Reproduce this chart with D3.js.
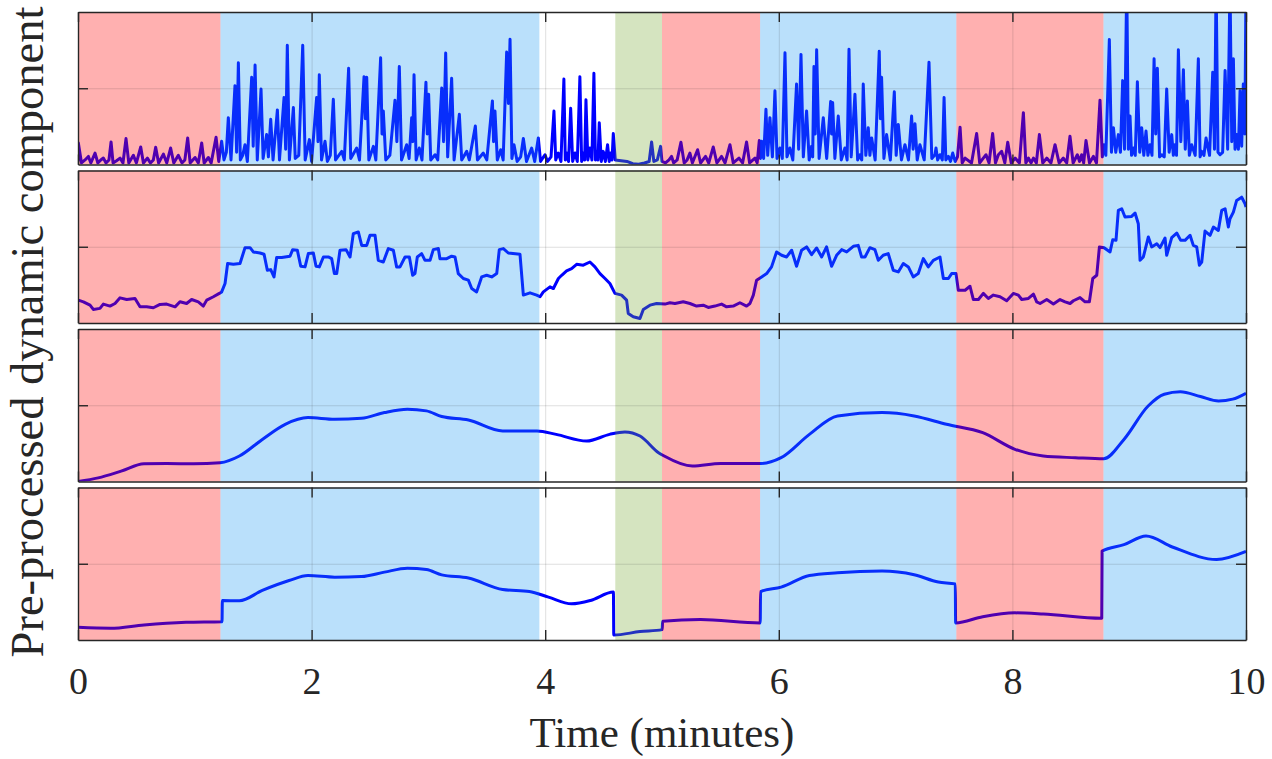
<!DOCTYPE html>
<html lang="en">

<head>
    <meta charset="UTF-8">
    <title>Pre-processed dynamic component</title>
    <script src="https://d3js.org/d3.v7.min.js"></script>
    <style>
        body {
            margin: 0;
            background: #fff;
        }

        svg text {
            font-family: "Liberation Serif", "Times New Roman", serif;
            fill: #262626;
        }

        .frame .domain,
        .frame line {
            stroke: #262626;
            stroke-width: 1.4px;
        }

        .grid line {
            stroke: #262626;
            stroke-opacity: 0.15;
            stroke-width: 1px;
        }

        .grid .domain {
            display: none;
        }

        .signal {
            fill: none;
            stroke: #0000ff;
            stroke-width: 3px;
            stroke-linejoin: round;
        }
    </style>
</head>

<body>
    <div id="chart"></div>

    <script>
        // ---- data ----
        const timeTicks = [0, 2, 4, 6, 8, 10];

        // shaded segments (minutes) and what kind of phase each one is
        const segmentEdges = [0, 1.22, 3.95, 4.6, 5.0, 5.84, 7.52, 8.78, 10];
        const segmentKinds = ["red", "blue", "none", "green", "red", "blue", "red", "blue"];

        // row 1: raw spiky component [minutes, value]
        const row1 = [
            [0, 0.02], [0.003, 0.141], [0.03, 0.01], [0.06, 0.03], [0.089, 0.053], [0.11, 0.01], [0.146, 0.075], [0.17, 0.01],
            [0.195, 0.03], [0.217, 0.042], [0.24, 0.01], [0.265, 0.03], [0.283, 0.148], [0.30, 0.01], [0.33, 0.025], [0.36, 0.042],
            [0.385, 0.01], [0.411, 0.17], [0.435, 0.01], [0.474, 0.06], [0.50, 0.01], [0.537, 0.115], [0.56, 0.01], [0.594, 0.042],
            [0.62, 0.01], [0.645, 0.03], [0.665, 0.113], [0.69, 0.01], [0.731, 0.068], [0.76, 0.01], [0.793, 0.108], [0.82, 0.01],
            [0.859, 0.06], [0.89, 0.01], [0.915, 0.03], [0.939, 0.174], [0.96, 0.01], [1.002, 0.046], [1.03, 0.01], [1.059, 0.141],
            [1.08, 0.01], [1.116, 0.046], [1.14, 0.01], [1.182, 0.179], [1.205, 0.02],
            [1.22, 0.10], [1.23, 0.152], [1.25, 0.03], [1.27, 0.08], [1.287, 0.307], [1.31, 0.03], [1.344, 0.517], [1.358, 0.08],
            [1.373, 0.667], [1.39, 0.03], [1.41, 0.06], [1.43, 0.13], [1.45, 0.02], [1.487, 0.572], [1.50, 0.12], [1.516, 0.653],
            [1.535, 0.03], [1.567, 0.495], [1.585, 0.04], [1.615, 0.197], [1.63, 0.05], [1.65, 0.296], [1.67, 0.03], [1.707, 0.358],
            [1.725, 0.03], [1.764, 0.439], [1.778, 0.1], [1.792, 0.782], [1.81, 0.03], [1.844, 0.373], [1.86, 0.04], [1.89, 0.06],
            [1.924, 0.782], [1.945, 0.03], [1.981, 0.163], [2.00, 0.02], [2.043, 0.439], [2.055, 0.15], [2.066, 0.589], [2.085, 0.03],
            [2.115, 0.152], [2.135, 0.02], [2.16, 0.06], [2.186, 0.428], [2.205, 0.03], [2.258, 0.086], [2.28, 0.03], [2.317, 0.631],
            [2.335, 0.04], [2.386, 0.108], [2.41, 0.03], [2.449, 0.576], [2.46, 0.3], [2.472, 0.572], [2.49, 0.03], [2.529, 0.119],
            [2.55, 0.03], [2.591, 0.70], [2.603, 0.2], [2.614, 0.351], [2.635, 0.03], [2.67, 0.06], [2.714, 0.422], [2.73, 0.15],
            [2.751, 0.642], [2.77, 0.03], [2.814, 0.13], [2.835, 0.04], [2.857, 0.307], [2.866, 0.15], [2.877, 0.589], [2.895, 0.03],
            [2.922, 0.108], [2.945, 0.03], [2.979, 0.539], [2.99, 0.2], [3.002, 0.461], [3.02, 0.03], [3.057, 0.064], [3.08, 0.03],
            [3.114, 0.501], [3.13, 0.15], [3.148, 0.731], [3.165, 0.05], [3.199, 0.565], [3.22, 0.03], [3.265, 0.329], [3.285, 0.03],
            [3.328, 0.086], [3.35, 0.03], [3.402, 0.252], [3.42, 0.03], [3.47, 0.075], [3.50, 0.03], [3.548, 0.417], [3.558, 0.15],
            [3.57, 0.351], [3.59, 0.03], [3.619, 0.097], [3.64, 0.03], [3.67, 0.737], [3.685, 0.4], [3.699, 0.821], [3.715, 0.04],
            [3.733, 0.13], [3.76, 0.02], [3.79, 0.05], [3.813, 0.17], [3.84, 0.02], [3.884, 0.108], [3.91, 0.02], [3.941, 0.174],
            [3.96, 0.02],
            [3.998, 0.064], [4.02, 0.02], [4.05, 0.05], [4.075, 0.351], [4.09, 0.03], [4.112, 0.075], [4.135, 0.02], [4.16, 0.561],
            [4.172, 0.03], [4.183, 0.075], [4.20, 0.02], [4.218, 0.369], [4.235, 0.02], [4.255, 0.075], [4.275, 0.02], [4.297, 0.576],
            [4.312, 0.02], [4.326, 0.075], [4.338, 0.03], [4.349, 0.424], [4.365, 0.03], [4.383, 0.108], [4.40, 0.03], [4.417, 0.598],
            [4.43, 0.03], [4.44, 0.086], [4.452, 0.03], [4.463, 0.274], [4.48, 0.02], [4.497, 0.086], [4.515, 0.02], [4.534, 0.13],
            [4.548, 0.02], [4.56, 0.075], [4.572, 0.03], [4.583, 0.203], [4.60, 0.03],
            [4.65, 0.025], [4.70, 0.02], [4.75, 0.005], [4.80, 0.002], [4.85, 0.01], [4.89, 0.02], [4.911, 0.148], [4.93, 0.02],
            [4.96, 0.03], [4.988, 0.119], [5.0, 0.02],
            [5.03, 0.01], [5.06, 0.03], [5.082, 0.053], [5.10, 0.01], [5.13, 0.03], [5.162, 0.146], [5.19, 0.01], [5.215, 0.03],
            [5.239, 0.075], [5.26, 0.01], [5.305, 0.097], [5.33, 0.01], [5.373, 0.053], [5.40, 0.01], [5.439, 0.115], [5.47, 0.01],
            [5.51, 0.053], [5.54, 0.01], [5.582, 0.13], [5.61, 0.01], [5.659, 0.042], [5.69, 0.01], [5.724, 0.148], [5.75, 0.01],
            [5.796, 0.042], [5.815, 0.01], [5.833, 0.157],
            [5.843, 0.04], [5.853, 0.152], [5.87, 0.04], [5.89, 0.362], [5.905, 0.06], [5.924, 0.307], [5.945, 0.05], [5.967, 0.483],
            [5.985, 0.04], [6.01, 0.108], [6.03, 0.04], [6.053, 0.733], [6.07, 0.05], [6.095, 0.108], [6.12, 0.03], [6.152, 0.528],
            [6.17, 0.1], [6.19, 0.722], [6.21, 0.05], [6.238, 0.351], [6.26, 0.03], [6.281, 0.119], [6.29, 0.05], [6.301, 0.642],
            [6.312, 0.2], [6.324, 0.753], [6.345, 0.04], [6.381, 0.307], [6.41, 0.04], [6.444, 0.413], [6.452, 0.2], [6.461, 0.406],
            [6.48, 0.04], [6.509, 0.318], [6.535, 0.03], [6.566, 0.108], [6.585, 0.03], [6.601, 0.755], [6.62, 0.05], [6.652, 0.461],
            [6.675, 0.03], [6.695, 0.064], [6.71, 0.03], [6.723, 0.528], [6.745, 0.06], [6.766, 0.241], [6.78, 0.06], [6.795, 0.174],
            [6.825, 0.03], [6.86, 0.742], [6.87, 0.3], [6.88, 0.572], [6.90, 0.04], [6.923, 0.196], [6.955, 0.03], [6.989, 0.477],
            [7.005, 0.06], [7.023, 0.263], [7.05, 0.03], [7.08, 0.13], [7.11, 0.03], [7.137, 0.318], [7.15, 0.1], [7.166, 0.267],
            [7.185, 0.03], [7.208, 0.13], [7.245, 0.03], [7.286, 0.671], [7.31, 0.04], [7.337, 0.064], [7.346, 0.108], [7.36, 0.03],
            [7.38, 0.064], [7.40, 0.03], [7.415, 0.439], [7.43, 0.03], [7.452, 0.053], [7.47, 0.02], [7.489, 0.075], [7.51, 0.02],
            [7.53, 0.05],
            [7.552, 0.245], [7.57, 0.01], [7.595, 0.042], [7.65, 0.01], [7.694, 0.203], [7.72, 0.01], [7.751, 0.042], [7.774, 0.064],
            [7.80, 0.01], [7.831, 0.203], [7.855, 0.01], [7.88, 0.064], [7.908, 0.086], [7.935, 0.01], [7.96, 0.146], [7.99, 0.01],
            [8.023, 0.042], [8.06, 0.01], [8.094, 0.34], [8.115, 0.01], [8.137, 0.042], [8.16, 0.01], [8.18, 0.042], [8.205, 0.01],
            [8.231, 0.196], [8.26, 0.01], [8.294, 0.042], [8.33, 0.01], [8.365, 0.13], [8.40, 0.01], [8.436, 0.042], [8.465, 0.01],
            [8.493, 0.185], [8.52, 0.01], [8.556, 0.064], [8.575, 0.02], [8.593, 0.064], [8.61, 0.01], [8.63, 0.157], [8.66, 0.01],
            [8.693, 0.053], [8.72, 0.01], [8.75, 0.422], [8.77, 0.05],
            [8.785, 0.13], [8.80, 0.06], [8.83, 0.819], [8.848, 0.08], [8.865, 0.241], [8.885, 0.08], [8.907, 0.196], [8.925, 0.08],
            [8.944, 0.55], [8.96, 0.1], [8.979, 1.2], [8.993, 0.1], [9.007, 0.318], [9.02, 0.06], [9.036, 0.108], [9.052, 0.06],
            [9.07, 0.543], [9.09, 0.08], [9.107, 0.241], [9.125, 0.06], [9.144, 0.219], [9.16, 0.06], [9.178, 0.13], [9.195, 0.06],
            [9.213, 0.693], [9.227, 0.2], [9.241, 0.631], [9.26, 0.05], [9.278, 0.064], [9.30, 0.05], [9.321, 0.495], [9.342, 0.08],
            [9.364, 0.196], [9.378, 0.06], [9.392, 0.13], [9.405, 0.06], [9.421, 0.753], [9.442, 0.15], [9.464, 0.622], [9.48, 0.1],
            [9.498, 0.417], [9.515, 0.06], [9.535, 0.13], [9.565, 0.06], [9.592, 0.693], [9.607, 0.05], [9.621, 0.086], [9.64, 0.06],
            [9.658, 0.174], [9.688, 0.06], [9.715, 0.605], [9.73, 0.1], [9.744, 1.2], [9.76, 0.08], [9.778, 0.064], [9.80, 0.08],
            [9.821, 0.616], [9.843, 0.1], [9.863, 1.2], [9.878, 0.15], [9.892, 0.693], [9.906, 0.1], [9.92, 0.196], [9.935, 0.1],
            [9.949, 0.483], [9.963, 0.12], [9.977, 0.528], [9.99, 0.2], [10.0, 1.2]
        ];

        // row 2: stepped component
        const row2 = [
            [0.003, 0.15], [0.046, 0.139], [0.103, 0.117], [0.131, 0.089], [0.188, 0.096], [0.217, 0.124], [0.274, 0.111],
            [0.317, 0.128], [0.36, 0.165], [0.417, 0.154], [0.488, 0.161], [0.531, 0.106], [0.588, 0.106], [0.645, 0.10],
            [0.702, 0.122], [0.759, 0.124], [0.831, 0.106], [0.873, 0.139], [0.93, 0.128], [0.973, 0.154], [1.03, 0.139],
            [1.073, 0.111], [1.102, 0.15], [1.159, 0.172], [1.21, 0.194], [1.23, 0.204], [1.259, 0.259], [1.281, 0.39],
            [1.33, 0.385], [1.387, 0.39], [1.43, 0.494], [1.473, 0.494], [1.501, 0.466], [1.558, 0.459], [1.593, 0.451],
            [1.621, 0.346], [1.65, 0.35], [1.678, 0.302], [1.701, 0.429], [1.744, 0.429], [1.815, 0.438], [1.838, 0.481],
            [1.878, 0.477], [1.907, 0.372], [1.944, 0.368], [1.972, 0.455], [2.015, 0.459], [2.038, 0.372], [2.066, 0.368],
            [2.101, 0.433], [2.143, 0.433], [2.172, 0.422], [2.195, 0.324], [2.215, 0.324], [2.243, 0.477], [2.295, 0.481],
            [2.329, 0.433], [2.357, 0.586], [2.40, 0.597], [2.429, 0.509], [2.472, 0.509], [2.50, 0.575], [2.543, 0.575],
            [2.571, 0.411], [2.614, 0.40], [2.657, 0.488], [2.70, 0.477], [2.728, 0.368], [2.757, 0.368], [2.80, 0.433],
            [2.837, 0.433], [2.865, 0.313], [2.885, 0.324], [2.905, 0.433], [2.942, 0.455], [2.971, 0.411], [3.014, 0.411],
            [3.042, 0.481], [3.085, 0.488], [3.099, 0.422], [3.157, 0.422], [3.199, 0.438], [3.228, 0.433], [3.256, 0.324],
            [3.299, 0.292], [3.342, 0.281], [3.371, 0.226], [3.413, 0.204], [3.456, 0.302], [3.499, 0.313], [3.542, 0.302],
            [3.585, 0.324], [3.607, 0.481], [3.642, 0.488], [3.684, 0.459], [3.784, 0.451], [3.813, 0.183], [3.87, 0.198],
            [3.927, 0.183], [3.956, 0.172], [3.984, 0.204], [4.041, 0.237], [4.07, 0.226], [4.113, 0.292], [4.141, 0.313],
            [4.183, 0.342], [4.226, 0.357], [4.269, 0.385], [4.326, 0.379], [4.383, 0.40], [4.426, 0.368], [4.469, 0.324],
            [4.512, 0.292], [4.554, 0.259], [4.597, 0.194], [4.654, 0.183], [4.697, 0.15], [4.711, 0.063], [4.754, 0.041],
            [4.811, 0.03], [4.84, 0.089], [4.897, 0.117], [4.954, 0.128], [5.025, 0.124], [5.068, 0.133], [5.111, 0.128],
            [5.182, 0.139], [5.239, 0.128], [5.296, 0.111], [5.353, 0.117], [5.396, 0.102], [5.453, 0.111], [5.51, 0.124],
            [5.553, 0.106], [5.61, 0.111], [5.667, 0.133], [5.724, 0.111], [5.753, 0.128], [5.782, 0.183], [5.81, 0.281],
            [5.853, 0.302], [5.896, 0.324], [5.938, 0.368], [5.981, 0.466], [6.024, 0.444], [6.067, 0.433], [6.11, 0.477],
            [6.152, 0.372], [6.195, 0.477], [6.238, 0.499], [6.281, 0.448], [6.324, 0.492], [6.367, 0.433], [6.409, 0.499],
            [6.452, 0.372], [6.495, 0.444], [6.538, 0.481], [6.581, 0.466], [6.638, 0.503], [6.68, 0.509], [6.709, 0.433],
            [6.738, 0.433], [6.78, 0.494], [6.823, 0.481], [6.852, 0.411], [6.894, 0.444], [6.937, 0.455], [6.98, 0.346],
            [7.023, 0.335], [7.066, 0.39], [7.109, 0.368], [7.151, 0.302], [7.194, 0.324], [7.237, 0.422], [7.28, 0.368],
            [7.323, 0.411], [7.38, 0.433], [7.409, 0.292], [7.452, 0.292], [7.48, 0.324], [7.517, 0.324], [7.537, 0.215],
            [7.595, 0.215], [7.637, 0.241], [7.666, 0.154], [7.709, 0.154], [7.751, 0.194], [7.794, 0.161], [7.837, 0.183],
            [7.894, 0.172], [7.951, 0.146], [8.008, 0.194], [8.051, 0.183], [8.08, 0.154], [8.137, 0.161], [8.18, 0.189],
            [8.208, 0.139], [8.237, 0.128], [8.294, 0.154], [8.351, 0.124], [8.408, 0.154], [8.451, 0.139], [8.494, 0.128],
            [8.522, 0.146], [8.579, 0.167], [8.622, 0.139], [8.659, 0.139], [8.688, 0.292], [8.722, 0.313], [8.745, 0.499],
            [8.785, 0.494], [8.836, 0.466], [8.859, 0.546], [8.887, 0.542], [8.907, 0.738], [8.936, 0.749], [8.964, 0.695],
            [9.021, 0.699], [9.05, 0.721], [9.078, 0.651], [9.093, 0.411], [9.121, 0.433], [9.164, 0.564], [9.193, 0.499],
            [9.236, 0.52], [9.264, 0.494], [9.307, 0.557], [9.321, 0.444], [9.364, 0.56], [9.407, 0.59], [9.441, 0.542],
            [9.478, 0.542], [9.521, 0.575], [9.549, 0.509], [9.578, 0.499], [9.601, 0.379], [9.621, 0.40], [9.649, 0.603],
            [9.692, 0.575], [9.721, 0.629], [9.763, 0.607], [9.792, 0.738], [9.821, 0.749], [9.849, 0.629], [9.863, 0.684],
            [9.892, 0.727], [9.92, 0.804], [9.963, 0.825], [9.992, 0.782], [10.0, 0.76]
        ];

        // row 3: smooth low-pass component
        const row3 = [
            [0, 0.0], [0.173, 0.024], [0.369, 0.068], [0.565, 0.116], [0.76, 0.118], [0.99, 0.116], [1.217, 0.123],
            [1.382, 0.167], [1.578, 0.276], [1.774, 0.375], [1.969, 0.419], [2.198, 0.408], [2.427, 0.414], [2.623, 0.452],
            [2.82, 0.474], [2.983, 0.463], [3.114, 0.426], [3.343, 0.403], [3.636, 0.331], [3.93, 0.331], [4.094, 0.309],
            [4.355, 0.265], [4.551, 0.309], [4.682, 0.325], [4.812, 0.298], [4.97, 0.189], [5.019, 0.167], [5.26, 0.101],
            [5.502, 0.118], [5.848, 0.118], [6.02, 0.156], [6.262, 0.309], [6.503, 0.43], [6.884, 0.452], [7.159, 0.43],
            [7.436, 0.375], [7.746, 0.32], [8.022, 0.211], [8.264, 0.167], [8.54, 0.156], [8.782, 0.149], [8.955, 0.276],
            [9.162, 0.495], [9.3, 0.572], [9.438, 0.588], [9.61, 0.557], [9.765, 0.528], [9.886, 0.54], [10, 0.579]
        ];

        // row 4: smooth component reset at each phase change
        const row4 = [
            [0, 0.083], [0.277, 0.077], [0.565, 0.099], [0.925, 0.116], [1.233, 0.12], [1.236, 0.259], [1.382, 0.257],
            [1.578, 0.325], [1.807, 0.39], [1.969, 0.423], [2.198, 0.412], [2.427, 0.416], [2.623, 0.445], [2.82, 0.471],
            [2.983, 0.462], [3.114, 0.427], [3.343, 0.406], [3.636, 0.331], [3.865, 0.318], [4.028, 0.281], [4.225, 0.237],
            [4.388, 0.259], [4.584, 0.314], [4.587, 0.033], [4.812, 0.055], [5.002, 0.068], [5.005, 0.123], [5.33, 0.134],
            [5.841, 0.112], [5.844, 0.318], [6.02, 0.347], [6.262, 0.423], [6.503, 0.441], [6.884, 0.452], [7.159, 0.428],
            [7.366, 0.38], [7.511, 0.368], [7.514, 0.112], [7.746, 0.153], [8.022, 0.178], [8.264, 0.171], [8.765, 0.143],
            [8.768, 0.583], [8.955, 0.625], [9.144, 0.682], [9.369, 0.61], [9.748, 0.528], [10, 0.581]
        ];

        const rows = [row1, row2, row3, row4];

        // ---- layout ----
        const width = 1272, height = 759;
        const plotLeft = 78, plotRight = 1246, plotTop = 12;
        const panelH = 152.5, gap = 6;

        // patch colours: drawn over the trace with transparency, as in the original figure
        const patchColor = { red: "#ff0000", blue: "#1c98f2", green: "#73a52d" };

        const svg = d3.select("#chart")
            .append("svg")
            .attr("width", width)
            .attr("height", height);

        const x = d3.scaleLinear().domain([0, 10]).range([plotLeft, plotRight]);

        const segments = segmentKinds.map((kind, i) => ({
            kind: kind,
            start: segmentEdges[i],
            end: segmentEdges[i + 1]
        })).filter(d => d.kind !== "none");

        rows.forEach((data, i) => {
            const y0 = plotTop + i * (panelH + gap);
            const y = d3.scaleLinear().domain([0, 1]).range([y0 + panelH, y0]);

            const g = svg.append("g");

            svg.append("clipPath")
                .attr("id", "clip" + i)
                .append("rect")
                .attr("x", plotLeft)
                .attr("y", y0)
                .attr("width", plotRight - plotLeft)
                .attr("height", panelH);

            // trace
            const line = d3.line()
                .x(d => x(d[0]))
                .y(d => y(d[1]))
                .curve(i >= 2 ? d3.curveMonotoneX : d3.curveLinear);

            g.append("path")
                .datum(data)
                .attr("class", "signal")
                .attr("clip-path", `url(#clip${i})`)
                .attr("d", line);

            // phase patches
            g.selectAll(".patch")
                .data(segments)
                .enter()
                .append("rect")
                .attr("class", "patch")
                .attr("x", d => x(d.start))
                .attr("width", d => x(d.end) - x(d.start))
                .attr("y", y0)
                .attr("height", panelH)
                .attr("fill", d => patchColor[d.kind])
                .attr("fill-opacity", d => d.kind === "red" ? 0.31 : 0.3);

            // grid
            g.append("g")
                .attr("class", "grid")
                .attr("transform", `translate(0,${y0 + panelH})`)
                .call(d3.axisBottom(x).tickValues([2, 4, 6, 8]).tickSize(-panelH).tickFormat(""));

            g.append("g")
                .attr("class", "grid")
                .attr("transform", `translate(${plotLeft},0)`)
                .call(d3.axisLeft(y).tickValues([0.5]).tickSize(-(plotRight - plotLeft)).tickFormat(""));

            // frame with inward ticks
            const bottomAxis = d3.axisBottom(x).tickValues(timeTicks)
                .tickSizeInner(-10).tickSizeOuter(0).tickPadding(27);
            if (i < rows.length - 1) bottomAxis.tickFormat("");

            const bottom = g.append("g")
                .attr("class", "frame")
                .attr("transform", `translate(0,${y0 + panelH})`)
                .call(bottomAxis);

            bottom.selectAll("text")
                .style("font-size", "38px");

            g.append("g")
                .attr("class", "frame")
                .attr("transform", `translate(0,${y0})`)
                .call(d3.axisTop(x).tickValues(timeTicks).tickSizeInner(-10).tickSizeOuter(0).tickFormat(""));

            g.append("g")
                .attr("class", "frame")
                .attr("transform", `translate(${plotLeft},0)`)
                .call(d3.axisLeft(y).tickValues([0.5]).tickSizeInner(-10).tickSizeOuter(0).tickFormat(""));

            g.append("g")
                .attr("class", "frame")
                .attr("transform", `translate(${plotRight},0)`)
                .call(d3.axisRight(y).tickValues([0.5]).tickSizeInner(-10).tickSizeOuter(0).tickFormat(""));
        });

        // axis titles
        svg.append("text")
            .attr("x", (plotLeft + plotRight) / 2)
            .attr("y", 747)
            .attr("text-anchor", "middle")
            .style("font-size", "43px")
            .text("Time (minutes)");

        const plotBottom = plotTop + 4 * panelH + 3 * gap;
        svg.append("text")
            .attr("transform", `translate(43,${(plotTop + plotBottom) / 2 + 6}) rotate(-90)`)
            .attr("text-anchor", "middle")
            .style("font-size", "46.5px")
            .text("Pre-processed dynamic component");
    </script>
</body>

</html>
